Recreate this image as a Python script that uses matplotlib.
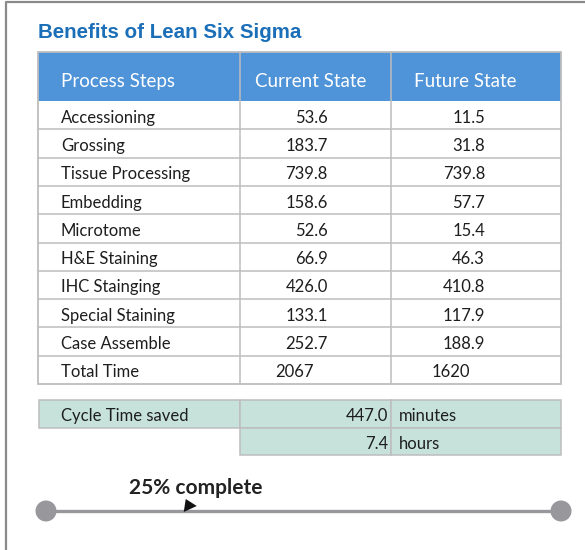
import matplotlib.pyplot as plt
from matplotlib.patches import Rectangle, Circle, Polygon

# data
title = "Benefits of Lean Six Sigma"
headers = ["Process Steps", "Current State", "Future State"]
steps = ["Accessioning", "Grossing", "Tissue Processing", "Embedding", "Microtome",
         "H&E Staining", "IHC Stainging", "Special Staining", "Case Assemble"]
current_state = [53.6, 183.7, 739.8, 158.6, 52.6, 66.9, 426.0, 133.1, 252.7]
future_state = [11.5, 31.8, 739.8, 57.7, 15.4, 46.3, 410.8, 117.9, 188.9]
total_label = "Total Time"
total_current = 2067
total_future = 1620
saved_label = "Cycle Time saved"
saved_values = [447.0, 7.4]
saved_units = ["minutes", "hours"]
progress = 0.25
progress_label = "25% complete"

BODY = ["Lato", "DejaVu Sans"]
HEAD_BLUE = "#4f93d8"
TITLE_BLUE = "#1b6fb8"
GRID = "#bdbdbd"
TEAL = "#c6e2db"
GREY = "#98979c"
FS = 12
DY = 1  # nudge text down a bit inside the rows
VA = "center_baseline"

fig = plt.figure(figsize=(5.85, 5.5), dpi=100)
ax = fig.add_axes([0, 0, 1, 1])
ax.set_xlim(0, 585)
ax.set_ylim(550, 0)
ax.axis("off")

# outer frame (left + top only)
ax.plot([5.5, 5.5, 585], [550, 2, 2], color="#8a8a8a", lw=1.6, solid_capstyle="butt")

ax.text(38, 31, title, fontsize=14.8, fontweight="bold", color=TITLE_BLUE,
        family=["Liberation Sans"], va=VA, ha="left")

# main table geometry
x0, c1, c2, x3 = 38, 240, 391, 561
head_top, head_bot = 52, 101
n_rows = len(steps) + 1
row_h = (384 - head_bot) / n_rows

ax.add_patch(Rectangle((x0, head_top), x3 - x0, head_bot - head_top,
                       facecolor=HEAD_BLUE, edgecolor="none"))
for hx, h in zip((61, 255, 414), headers):
    ax.text(hx, 80, h, fontsize=13.5, color="white", family=BODY, va=VA)

labels = steps + [total_label]
for i, lab in enumerate(labels):
    yc = head_bot + row_h * (i + 0.5) + DY
    ax.text(61, yc, lab, fontsize=FS, color="#1e1e1e", family=BODY, va=VA)
    if i < len(steps):
        ax.text(328, yc, f"{current_state[i]:.1f}", fontsize=FS, color="#1e1e1e",
                family=BODY, va=VA, ha="right")
        ax.text(485, yc, f"{future_state[i]:.1f}", fontsize=FS, color="#1e1e1e",
                family=BODY, va=VA, ha="right")
    else:
        ax.text(294, yc, f"{total_current}", fontsize=FS, color="#1e1e1e",
                family=BODY, va=VA, ha="center")
        ax.text(451, yc, f"{total_future}", fontsize=FS, color="#1e1e1e",
                family=BODY, va=VA, ha="center")

tab_bot = head_bot + row_h * n_rows
for i in range(1, n_rows):
    y = head_bot + row_h * i
    ax.plot([x0, x3], [y, y], color=GRID, lw=1.1)
for x in (c1, c2):
    ax.plot([x, x], [head_top, tab_bot], color=GRID, lw=1.1)
ax.add_patch(Rectangle((x0, head_top), x3 - x0, tab_bot - head_top,
                       facecolor="none", edgecolor=GRID, lw=1.3))

# cycle time saved table
s_top, s_h = 400, 27.5
ax.add_patch(Rectangle((39, s_top), c1 - 39, s_h, facecolor=TEAL, edgecolor=GRID, lw=1.1))
ax.text(61, s_top + s_h / 2 + DY, saved_label, fontsize=FS, color="#1e1e1e",
        family=BODY, va=VA)
for i, (v, u) in enumerate(zip(saved_values, saved_units)):
    y = s_top + s_h * i
    ax.add_patch(Rectangle((c1, y), c2 - c1, s_h, facecolor=TEAL, edgecolor=GRID, lw=1.1))
    ax.add_patch(Rectangle((c2, y), x3 - c2, s_h, facecolor=TEAL, edgecolor=GRID, lw=1.1))
    ax.text(c2 - 3, y + s_h / 2 + DY, f"{v:.1f}", fontsize=FS, color="#1e1e1e",
            family=BODY, va=VA, ha="right")
    ax.text(c2 + 8, y + s_h / 2 + DY, u, fontsize=FS, color="#1e1e1e",
            family=BODY, va=VA, ha="left")

# progress bar
p0, p1, py = 46, 561, 511
ax.plot([p0, p1], [py, py], color=GREY, lw=2.4, zorder=2)
for px in (p0, p1):
    ax.add_patch(Circle((px, py), 10.5, facecolor=GREY, edgecolor="none", zorder=3))
mx = p0 + (p1 - p0) * progress + 9
ax.add_patch(Polygon([(mx, py + 1), (mx + 2, py - 12), (mx + 13, py - 5)],
                     closed=True, facecolor="#111111", edgecolor="none", zorder=4))
ax.text(196, 486, progress_label, fontsize=15, fontweight="bold", color="#222222",
        family=BODY, va=VA, ha="center")

fig.savefig("out.png", dpi=100)
